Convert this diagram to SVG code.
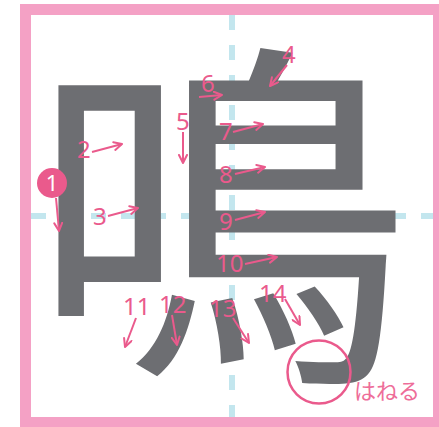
<svg xmlns="http://www.w3.org/2000/svg" width="439" height="427" viewBox="0 0 439 427">
<defs>
<style>
.num{font-family:"Noto Sans","Liberation Sans",sans-serif;font-size:24px;fill:#ea5a8c;}
.arr{stroke:#ea5a8c;stroke-width:2;fill:none;marker-end:url(#ah);}
.guide{stroke:#c3e6ee;stroke-width:6;stroke-dasharray:15 15;fill:none;}
</style>
<marker id="ah" viewBox="0 0 10 10" refX="9" refY="5" markerWidth="10" markerHeight="10" markerUnits="userSpaceOnUse" orient="auto">
<path d="M1,1 L9,5 L1,9" fill="none" stroke="#ea5a8c" stroke-width="2" stroke-linecap="round" stroke-linejoin="round"/>
</marker>
</defs>
<rect x="0" y="0" width="439" height="427" fill="#ffffff"/>
<g id="guides">
<line class="guide" x1="232" y1="15" x2="232" y2="417"/>
<line class="guide" x1="31" y1="216" x2="433" y2="216"/>
</g>
<rect id="frame" x="25.5" y="9.5" width="413" height="413" fill="none" stroke="#f4a1c5" stroke-width="11"/>
<g id="kanji">
<text x="-3.7" y="355" transform="translate(224,0) scale(1.04,1)" font-family="'Noto Sans CJK JP','Noto Sans CJK SC',sans-serif" font-size="365" font-weight="400" fill="#6d6e72" text-anchor="middle">鳴</text>
</g>
<g id="connectors">
<line class="arr" x1="56" y1="198" x2="59" y2="231"/>
<line class="arr" x1="92" y1="152" x2="122" y2="144"/>
<line class="arr" x1="108" y1="216" x2="138" y2="208"/>
<line class="arr" x1="287" y1="65" x2="270" y2="86"/>
<line class="arr" x1="183" y1="132" x2="183" y2="163"/>
<line class="arr" x1="199" y1="97" x2="222" y2="95"/>
<line class="arr" x1="233" y1="132" x2="263" y2="124"/>
<line class="arr" x1="235" y1="174" x2="265" y2="167"/>
<line class="arr" x1="235" y1="220" x2="265" y2="212"/>
<line class="arr" x1="245" y1="264" x2="277" y2="257"/>
<line class="arr" x1="136" y1="318" x2="125" y2="347"/>
<line class="arr" x1="172" y1="315" x2="177" y2="345"/>
<line class="arr" x1="233" y1="318" x2="249" y2="343"/>
<line class="arr" x1="285" y1="299" x2="300" y2="325"/>
</g>
<g id="n1">
<circle cx="52" cy="183" r="15" fill="#ea5a8c"/>
<text x="52" y="191" class="num" style="fill:#ffffff;font-size:22px" text-anchor="middle">1</text>
</g>
<g id="labels">
<text class="num" x="77" y="158">2</text>
<text class="num" x="93" y="225">3</text>
<text class="num" x="282" y="63">4</text>
<text class="num" x="176" y="130">5</text>
<text class="num" x="201" y="92">6</text>
<text class="num" x="219" y="140">7</text>
<text class="num" x="219" y="183">8</text>
<text class="num" x="219" y="230">9</text>
<text class="num" x="216" y="272">10</text>
<text class="num" x="123" y="315">11</text>
<text class="num" x="159" y="313">12</text>
<text class="num" x="209" y="317">13</text>
<text class="num" x="259" y="302">14</text>
</g>
<g id="hane">
<circle cx="319" cy="372" r="31.5" fill="none" stroke="#ea5a8c" stroke-width="2.5"/>
<text x="354" y="399" font-family="'Noto Sans CJK JP',sans-serif" font-size="22" fill="#ee6d99">はねる</text>
</g>
</svg>
